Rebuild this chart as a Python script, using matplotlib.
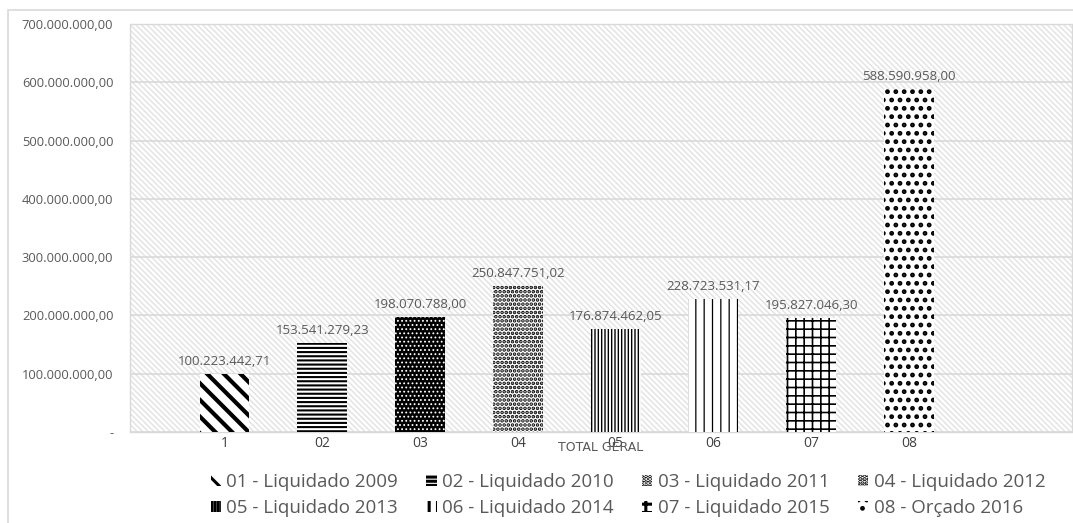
import matplotlib
matplotlib.use("Agg")
import matplotlib.pyplot as plt
from matplotlib.patches import Rectangle
from matplotlib.ticker import FuncFormatter

# dados do grafico
tick_labels = ["1", "02", "03", "04", "05", "06", "07", "08"]
series = ["01 - Liquidado 2009", "02 - Liquidado 2010", "03 - Liquidado 2011",
          "04 - Liquidado 2012", "05 - Liquidado 2013", "06 - Liquidado 2014",
          "07 - Liquidado 2015", "08 - Orçado 2016"]
values = [100223442.71, 153541279.23, 198070788.00, 250847751.02,
          176874462.05, 228723531.17, 195827046.30, 588590958.00]

# estilo de cada barra (hachura, fundo, cor da hachura, espessura)
hatches = ["\\\\", "----", "....", "....", "|||||", "||", "++", ".."]
faces = ["white", "white", "black", "white", "white", "white", "white", "white"]
hcolors = ["black", "black", "white", "black", "black", "black", "black", "black"]
hwidths = [3.0, 1.5, 0.8, 1.8, 1.0, 0.9, 1.2, 2.2]


def br(v):
    s = "{:,.2f}".format(v)
    return s.replace(",", "X").replace(".", ",").replace("X", ".")


plt.rcParams["font.family"] = ["Open Sans", "DejaVu Sans"]
gray = "#595959"

fig = plt.figure(figsize=(10.73, 5.23), dpi=100)
ax = fig.add_axes([130 / 1073, 1 - 432 / 523, 942 / 1073, 408 / 523])

# moldura externa do grafico
fig.add_artist(Rectangle((8 / 1073, -0.05), 1.1, 1.05 - 10 / 523,
                         transform=fig.transFigure, fill=False,
                         edgecolor="#d9d9d9", linewidth=1.2, clip_on=False))

# fundo hachurado da area do grafico
ax.patch.set_facecolor("white")
ax.patch.set_edgecolor("#e2e2e2")
ax.patch.set_hatch("\\\\\\\\\\\\")
ax.patch.set_linewidth(1.0)
for sp in ax.spines.values():
    sp.set_color("#d9d9d9")

ax.set_axisbelow(True)
ax.yaxis.grid(True, color="#d9d9d9", linewidth=1.2)

bars = []
for i in range(len(values)):
    plt.rcParams["hatch.linewidth"] = hwidths[i]
    b = ax.bar(i, values[i], width=0.51, color=faces[i], edgecolor=hcolors[i],
               hatch=hatches[i], linewidth=0, label=series[i], zorder=3)
    ax.bar_label(b, labels=[br(values[i])], padding=4, fontsize=9.5, color=gray)
    bars.append(b)

ax.set_ylim(0, 700000000)
ax.set_xlim(-0.966, 8.667)
ax.set_yticks(range(0, 700000001, 100000000))
ax.yaxis.set_major_formatter(FuncFormatter(lambda v, p: "-" if v == 0 else br(v)))
ax.set_xticks(range(len(values)))
ax.set_xticklabels(tick_labels)
ax.tick_params(axis="y", length=0, labelsize=9.3, labelcolor=gray, pad=12)
ax.tick_params(axis="x", length=0, labelsize=10, labelcolor="#404040", pad=3)

ax.text(0.5, -0.037, "TOTAL GERAL", transform=ax.transAxes, ha="center",
        va="center", fontsize=9, color=gray,
        family=["Liberation Sans Narrow", "DejaVu Sans"])

# legenda preenchida por linha (4 colunas)
order = [0, 4, 1, 5, 2, 6, 3, 7]
fig.legend(handles=[bars[k] for k in order], labels=[series[k] for k in order],
           ncol=4, loc="center", bbox_to_anchor=(628 / 1073, 1 - 495 / 523),
           frameon=False, fontsize=13.5, labelcolor=gray,
           handlelength=0.55, handleheight=0.55, handletextpad=0.3,
           columnspacing=1.5, labelspacing=0.42, borderpad=0)

fig.savefig("out.png", dpi=100)
